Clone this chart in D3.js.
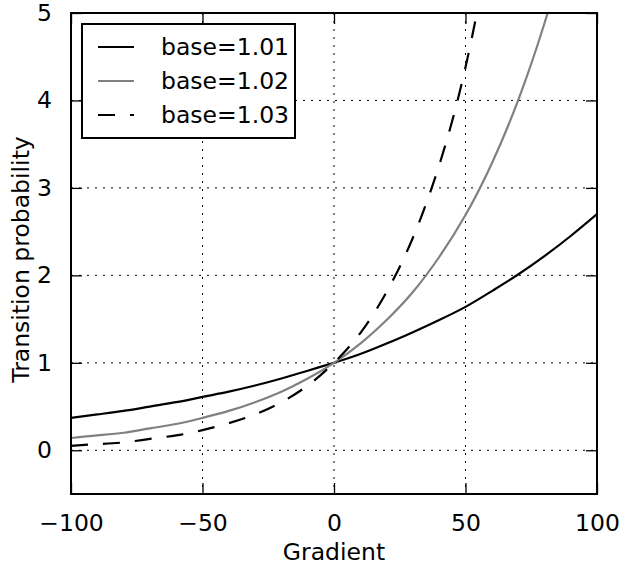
<!DOCTYPE html>
<html>
<head>
<meta charset="utf-8">
<script src="https://cdn.jsdelivr.net/npm/d3@7"></script>
<style>
	html, body { margin: 0; padding: 0; background: #fff; }
	text { font-family: 'DejaVu Sans', sans-serif; fill: #000; }
</style>
</head>
<body>
<div id="visualizer-container"></div>
<script>
// Data
const gradient = [-100, -90, -80, -70, -60, -50, -40, -30, -20, -10, 0, 10, 20, 30, 40, 50, 60, 70, 80, 90, 100];
const base101 = [0.37, 0.41, 0.45, 0.50, 0.55, 0.61, 0.67, 0.74, 0.82, 0.91, 1.00, 1.10, 1.22, 1.35, 1.49, 1.64, 1.82, 2.01, 2.22, 2.45, 2.70];
const base102 = [0.14, 0.17, 0.20, 0.25, 0.30, 0.37, 0.45, 0.55, 0.67, 0.82, 1.00, 1.22, 1.49, 1.81, 2.21, 2.69, 3.28, 4.00, 4.88, 5.95, 7.24];
const base103 = [0.05, 0.07, 0.09, 0.13, 0.17, 0.23, 0.31, 0.41, 0.55, 0.74, 1.00, 1.34, 1.81, 2.43, 3.26, 4.38, 5.89, null, null, null, null];
const seriesNames = ['base=1.01', 'base=1.02', 'base=1.03'];
const xTicks = [-100, -50, 0, 50, 100];
const yTicks = [0, 1, 2, 3, 4, 5];

// Attribute
const width = 622;
const height = 569;
const margin = { top: 13, right: 25, bottom: 75, left: 71 };
const tickLen = 11;
const fontSize = 23.5;

const series = [
	{ name: seriesNames[0], values: base101, color: '#000', dash: null },
	{ name: seriesNames[1], values: base102, color: '#808080', dash: null },
	{ name: seriesNames[2], values: base103, color: '#000', dash: '17,15' },
];

const svg = d3.select('#visualizer-container').append('svg')
	.attr('width', width).attr('height', height);

const x = d3.scaleLinear().domain([-100, 100]).range([margin.left, width - margin.right]);
const y = d3.scaleLinear().domain([-0.5, 5]).range([height - margin.bottom, margin.top]);

svg.append('clipPath').attr('id', 'plot-clip')
	.append('rect')
	.attr('x', x(-100)).attr('y', y(5))
	.attr('width', x(100) - x(-100)).attr('height', y(-0.5) - y(5));

// Grid
const grid = svg.append('g').attr('stroke', '#000').attr('stroke-width', 1).attr('stroke-dasharray', '2,6');
grid.selectAll('.vgrid').data(xTicks.slice(1, -1)).join('line')
	.attr('x1', (d) => x(d)).attr('x2', (d) => x(d))
	.attr('y1', y(5)).attr('y2', y(-0.5));
grid.selectAll('.hgrid').data(yTicks.slice(0, -1)).join('line')
	.attr('y1', (d) => y(d)).attr('y2', (d) => y(d))
	.attr('x1', x(-100)).attr('x2', x(100));

// Lines
const line = d3.line()
	.defined((d) => d[1] !== null)
	.x((d) => x(d[0]))
	.y((d) => y(d[1]))
	.curve(d3.curveNatural);

svg.append('g').attr('clip-path', 'url(#plot-clip)')
	.selectAll('path').data(series).join('path')
	.attr('d', (s) => line(gradient.map((g, i) => [g, s.values[i]])))
	.attr('fill', 'none')
	.attr('stroke', (s) => s.color)
	.attr('stroke-width', 2.2)
	.attr('stroke-dasharray', (s) => s.dash);

// Axes with inward ticks on all four sides
const minus = (d) => d3.format('d')(d).replace('-', '\u2212');
const xAxisB = d3.axisBottom(x).tickValues(xTicks).tickSizeInner(-tickLen).tickSizeOuter(0).tickPadding(tickLen + 9).tickFormat(minus);
const xAxisT = d3.axisTop(x).tickValues(xTicks).tickSizeInner(-tickLen).tickSizeOuter(0).tickFormat('');
const yAxisL = d3.axisLeft(y).tickValues(yTicks).tickSizeInner(-tickLen).tickSizeOuter(0).tickPadding(tickLen + 8).tickFormat(minus);
const yAxisR = d3.axisRight(y).tickValues(yTicks).tickSizeInner(-tickLen).tickSizeOuter(0).tickFormat('');

const axes = [
	svg.append('g').attr('transform', `translate(0,${y(-0.5)})`).call(xAxisB),
	svg.append('g').attr('transform', `translate(0,${y(5)})`).call(xAxisT),
	svg.append('g').attr('transform', `translate(${x(-100)},0)`).call(yAxisL),
	svg.append('g').attr('transform', `translate(${x(100)},0)`).call(yAxisR),
];
axes.forEach((a) => {
	a.attr('font-size', fontSize).attr('font-family', 'DejaVu Sans');
	a.select('.domain').remove();
	a.selectAll('line').attr('stroke', '#000').attr('stroke-width', 1.3);
});

// Frame
svg.append('rect')
	.attr('x', x(-100)).attr('y', y(5))
	.attr('width', x(100) - x(-100)).attr('height', y(-0.5) - y(5))
	.attr('fill', 'none').attr('stroke', '#000').attr('stroke-width', 2);

// Axis titles
svg.append('text')
	.attr('x', x(0)).attr('y', 560)
	.attr('text-anchor', 'middle').attr('font-size', fontSize)
	.text('Gradient');
svg.append('text')
	.attr('transform', `translate(29,${(y(5) + y(-0.5)) / 2 + 6}) rotate(-90)`)
	.attr('text-anchor', 'middle').attr('font-size', fontSize)
	.text('Transition probability');

// Legend
const legend = svg.append('g').attr('transform', 'translate(82,24)');
legend.append('rect')
	.attr('width', 213).attr('height', 114)
	.attr('fill', '#fff').attr('stroke', '#000').attr('stroke-width', 2);
const item = legend.selectAll('.item').data(series).join('g')
	.attr('transform', (d, i) => `translate(0,${23 + i * 34})`);
item.append('line')
	.attr('x1', 16).attr('x2', 52)
	.attr('stroke', (s) => s.color).attr('stroke-width', 2.2)
	.attr('stroke-dasharray', (s) => s.dash);
item.append('text')
	.attr('x', 79).attr('dy', '0.35em').attr('font-size', fontSize)
	.text((s) => s.name);
</script>
</body>
</html>
